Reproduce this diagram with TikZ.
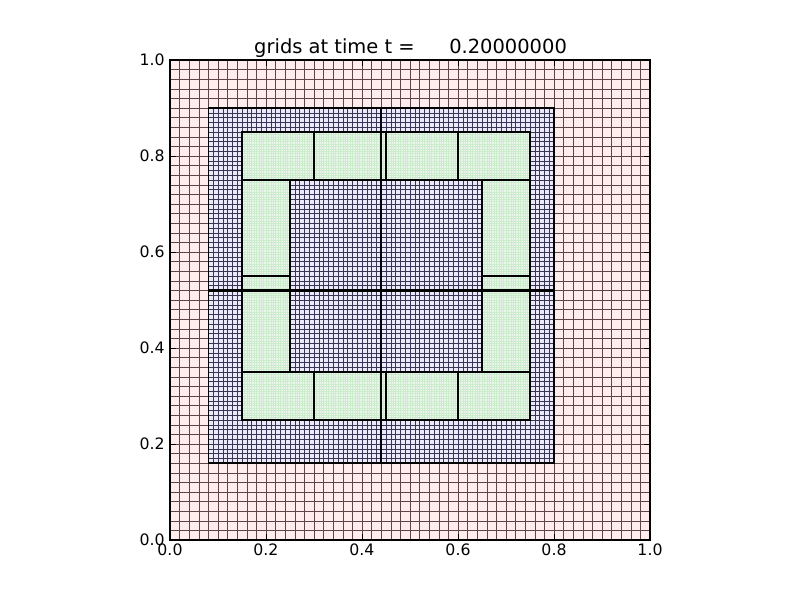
\documentclass[tikz,border=0pt]{standalone}
\usepackage{fontspec}
\setmainfont{DejaVu Sans}
\definecolor{lonefill}{RGB}{255,236,236}
\definecolor{loneline}{RGB}{95,68,70}
\definecolor{ltwofill}{RGB}{232,232,252}
\definecolor{ltwoline}{RGB}{55,55,85}
\definecolor{lthreefill}{RGB}{236,250,236}
\definecolor{lthreeline}{RGB}{205,235,205}
\tikzset{
  lonegrid/.style={draw=loneline, line width=0.45pt},
  ltwogrid/.style={draw=ltwoline, line width=0.4pt},
  lthreegrid/.style={draw=lthreeline, line width=0.25pt},
  patchborder/.style={draw=black, line width=1.35pt},
  ticklab/.style={inner sep=0pt, font=\fontsize{11.8}{14}\selectfont},
  titlelab/.style={inner sep=0pt, font=\fontsize{14.6}{17}\selectfont},
  tickmark/.style={draw=black, line width=0.5pt}
}
\begin{document}
\begin{tikzpicture}[x=0.75pt,y=-0.75pt]
\useasboundingbox (0,0) rectangle (800,600);
\fill[white] (0,0) rectangle (800,600);
% title
\node[titlelab, anchor=base east] (titleA) at (415,53) {grids at time t =};
\node[titlelab, anchor=base west] (titleB) at (449,53) {0.20000000};
\begin{scope}[shift={(170,540)}, x=360pt, y=360pt]
  % level 1
  \fill[lonefill] (0,0) rectangle (1,1);
  \draw[lonegrid, step=7.2pt] (0,0) grid (1,1);
  % level 2
  \foreach \a/\b/\c/\d in {0.08/0.16/0.44/0.52, 0.44/0.16/0.8/0.52, 0.08/0.52/0.44/0.9, 0.44/0.52/0.8/0.9}{
    \fill[ltwofill, opacity=0.85] (\a,\b) rectangle (\c,\d);
    \draw[ltwogrid, step=3.6pt] (\a,\b) grid (\c,\d);
  }
  % level 3
  \foreach \a/\b/\c/\d in {
    0.15/0.75/0.30/0.85, 0.30/0.75/0.44/0.85, 0.44/0.75/0.45/0.85, 0.45/0.75/0.60/0.85, 0.60/0.75/0.75/0.85,
    0.15/0.25/0.30/0.35, 0.30/0.25/0.44/0.35, 0.44/0.25/0.45/0.35, 0.45/0.25/0.60/0.35, 0.60/0.25/0.75/0.35,
    0.15/0.35/0.25/0.52, 0.15/0.52/0.25/0.55, 0.15/0.55/0.25/0.75,
    0.65/0.35/0.75/0.52, 0.65/0.52/0.75/0.55, 0.65/0.55/0.75/0.75}{
    \fill[lthreefill, opacity=0.88] (\a,\b) rectangle (\c,\d);
    \draw[lthreegrid, step=1.8pt] (\a,\b) grid (\c,\d);
  }
  % borders
  \foreach \a/\b/\c/\d in {0.08/0.16/0.44/0.52, 0.44/0.16/0.8/0.52, 0.08/0.52/0.44/0.9, 0.44/0.52/0.8/0.9}{
    \draw[patchborder] (\a,\b) rectangle (\c,\d);
  }
  \foreach \a/\b/\c/\d in {
    0.15/0.75/0.30/0.85, 0.30/0.75/0.44/0.85, 0.44/0.75/0.45/0.85, 0.45/0.75/0.60/0.85, 0.60/0.75/0.75/0.85,
    0.15/0.25/0.30/0.35, 0.30/0.25/0.44/0.35, 0.44/0.25/0.45/0.35, 0.45/0.25/0.60/0.35, 0.60/0.25/0.75/0.35,
    0.15/0.35/0.25/0.52, 0.15/0.52/0.25/0.55, 0.15/0.55/0.25/0.75,
    0.65/0.35/0.75/0.52, 0.65/0.52/0.75/0.55, 0.65/0.55/0.75/0.75}{
    \draw[patchborder] (\a,\b) rectangle (\c,\d);
  }
  \coordinate (splitLo) at ([yshift=-0.85pt]0.08,0.52);
  \coordinate (splitHi) at ([yshift=0.85pt]0.80,0.52);
  \fill[black] (splitLo) rectangle (splitHi);
  \draw[patchborder] (0,0) rectangle (1,1);
  % ticks and labels
  \foreach \v/\t in {0/0.0, 0.2/0.2, 0.4/0.4, 0.6/0.6, 0.8/0.8, 1/1.0}{
    \draw[tickmark] (\v,0) -- ++(0,4.2pt);
    \draw[tickmark] (\v,1) -- ++(0,-4.2pt);
    \draw[tickmark] (0,\v) -- ++(4.2pt,0);
    \draw[tickmark] (1,\v) -- ++(-4.2pt,0);
    \node[ticklab, anchor=base] (xl\t) at (\v,-0.0333) {\t};
    \node[ticklab, anchor=east] (yl\t) at (-0.0104,\v) {\t};
  }
\end{scope}
\end{tikzpicture}
\end{document}
